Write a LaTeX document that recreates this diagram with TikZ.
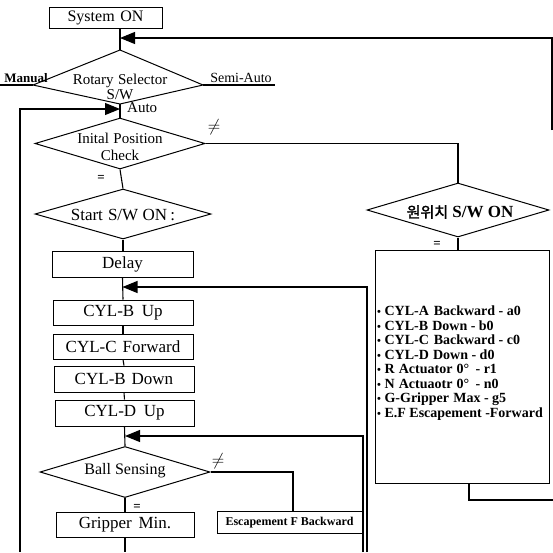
\documentclass[tikz,border=0pt]{standalone}
\usepackage{fontspec}
\setmainfont{Liberation Serif}
\newfontfamily\cjk[AutoFakeBold=2]{Noto Sans CJK KR}
\usetikzlibrary{shapes.geometric,arrows.meta}
\newcommand{\bul}{{\fontsize{11}{11}\selectfont\textbullet}}
\tikzset{
  ln/.style={line width=1.1pt},
  boxn/.style={draw, line width=1pt, inner sep=0pt, minimum width=141pt, minimum height=25pt, font=\fontsize{17}{17}\selectfont},
  dian/.style={draw, diamond, line width=1pt, inner sep=0pt},
  txt/.style={inner sep=0pt, align=center},
  arr/.style={line width=1.1pt, -{Triangle[length=15pt,width=12pt]}},
  nesym/.style={inner sep=0pt, font=\fontsize{17}{17}\selectfont},
  eqsym/.style={inner sep=0pt, font=\fontsize{13}{13}\selectfont\bfseries},
}
\begin{document}
\begin{tikzpicture}[x=1pt,y=-1pt]
\useasboundingbox (0,0) rectangle (553,552);
% --- boxes
\node[boxn, minimum width=113pt, minimum height=21pt, font=\fontsize{16}{16}\selectfont] (sys) at (105.5,17.5) {System\hspace{0.35em}ON};
\node[boxn, minimum height=26pt] (delay) at (122.5,264) {Delay};
\node[boxn, minimum width=140pt] (bup) at (123,312.5) {CYL-B\hspace{0.45em}Up};
\node[boxn, minimum width=140pt] (cfwd) at (123,346.5) {CYL-C\hspace{0.35em}Forward};
\node[boxn, minimum width=140pt, minimum height=26pt] (bdown) at (124,379) {CYL-B\hspace{0.35em}Down};
\node[boxn, minimum width=139pt, minimum height=26pt] (dup) at (124.5,413) {CYL-D\hspace{0.45em}Up};
\node[boxn, minimum width=138pt] (grip) at (125,524.5) {Gripper\hspace{0.4em}Min.};
\node[boxn, minimum width=145pt, minimum height=22pt, font=\fontsize{12}{12}\selectfont\bfseries] (esc) at (289.5,522.5) {Escapement F Backward};
% --- rotary selector (kite)
\coordinate (rotT) at (120,50);
\coordinate (rotL) at (33,85);
\coordinate (rotR) at (203,85);
\coordinate (rotB) at (120,104);
\draw[line width=1pt] (rotT) -- (rotR) -- (rotB) -- (rotL) -- cycle;
\node[txt, font=\fontsize{15}{15}\selectfont] (rotTxt) at (120,87) {Rotary\hspace{0.3em}Selector\\S/W};
% --- diamonds
\node[dian, minimum width=170pt, minimum height=51pt] (init) at (120,143.5) {};
\node[txt, font=\fontsize{15}{17}\selectfont] (initTxt) at (120,147) {Inital\hspace{0.3em}Position\\Check};
\node[dian, minimum width=176pt, minimum height=50pt] (start) at (123,214) {};
\node[txt, font=\fontsize{17}{17}\selectfont] (startTxt) at (123,215) {Start\hspace{0.3em}S/W ON\hspace{0.2em}:};
\node[dian, minimum width=170pt, minimum height=51pt] (ball) at (125,472) {};
\node[txt, font=\fontsize{16}{16}\selectfont] (ballTxt) at (125,471) {Ball Sensing};
\node[dian, minimum width=182pt, minimum height=54pt] (won) at (458,210) {};
\node[txt, font=\fontsize{17}{17}\selectfont\bfseries] (wonTxt) at (460,212) {{\cjk\bfseries\fontsize{15}{15}\selectfont 원위치} S/W ON};
% --- list box
\node[draw, line width=1pt, minimum width=174pt, minimum height=233pt, inner sep=0pt] (list) at (462,366.5) {};
\node[inner sep=0pt, anchor=north west, align=left, font=\fontsize{14}{14.5}\selectfont\bfseries] (listTxt) at (377,306) {%
\bul{} CYL-A\hspace{0.35em}Backward - a0\\
\bul{} CYL-B\hspace{0.3em}Down - b0\\
\bul{} CYL-C\hspace{0.35em}Backward - c0\\
\bul{} CYL-D\hspace{0.3em}Down - d0\\
\bul{} R\hspace{0.3em}Actuator\hspace{0.3em}0° \hspace{0.2em}- r1\\
\bul{} N\hspace{0.3em}Actuaotr\hspace{0.3em}0° \hspace{0.2em}- n0\\
\bul{} G-Gripper\hspace{0.3em}Max - g5\\
\bul{} E.F Escapement -Forward};
% --- labels
\node[inner sep=0pt, font=\fontsize{13}{13}\selectfont\bfseries] (manual) at (26,78) {Manual};
\node[inner sep=0pt, font=\fontsize{14}{14}\selectfont] (semi) at (241,78) {Semi-Auto};
\node[inner sep=0pt, anchor=west, font=\fontsize{15}{15}\selectfont] (auto) at (127,108) {Auto};
\node[nesym] (ne1) at (214,127) {$\neq$};
\node[nesym] (ne2) at (218,461) {$\neq$};
\node[eqsym] (eq1) at (101,178) {=};
\node[eqsym] (eq2) at (137,507) {=};
\node[eqsym] (eq3) at (437,244) {=};
% --- coordinates for free ends
\coordinate (manEnd) at (0,85);
\coordinate (semiEnd) at (275,85);
\coordinate (rtEnd) at (552,130);
\coordinate (rtCorner) at (552,38);
\coordinate (llBot) at (20,552);
\coordinate (llTop) at (20,109);
\coordinate (dlBot) at (367,552);
\coordinate (dlTop) at (367,287);
\coordinate (blBot) at (363,552);
\coordinate (blTop) at (363,436);
\coordinate (escC) at (293,472);
\coordinate (lsA) at (469,500);
\coordinate (lsEnd) at (553,500);
\coordinate (gripEnd) at (125,552);
% --- connectors
\draw[ln] (sys.south -| rotT) -- (rotT);
\draw[ln] (rotL) -- (manEnd);
\draw[ln] (rotR) -- (semiEnd);
\draw[arr] (rtEnd) -- (rtCorner) -- (rtCorner -| rotT);
\draw[ln] (rotB) -- (init.north);
\draw[arr] (llBot) -- (llTop) -- (llTop -| rotB);
\draw[ln] (init.east) -- (init.east -| won.north) -- (won.north);
\draw[ln] (init.south) -- (start.north);
\draw[ln] (start.south) -- (delay.north -| start.south);
\draw[ln] (delay.south) -- (bup.north);
\draw[arr] (dlBot) -- (dlTop) -- (dlTop -| delay.south);
\draw[ln] (bup.south) -- (cfwd.north);
\draw[ln] (cfwd.south) -- (bdown.north);
\draw[ln] (bdown.south) -- (dup.north);
\draw[ln] (dup.south) -- (ball.north);
\draw[arr] (blBot) -- (blTop) -- (blTop -| ball.north);
\draw[ln] (ball.east) -- (escC) -- (escC |- esc.north);
\draw[ln] (ball.south) -- (grip.north);
\draw[ln] (grip.south) -- (gripEnd);
\draw[ln] (won.south) -- (list.north -| won.south);
\draw[ln] (list.south -| lsA) -- (lsA) -- (lsEnd);
\end{tikzpicture}
\end{document}
